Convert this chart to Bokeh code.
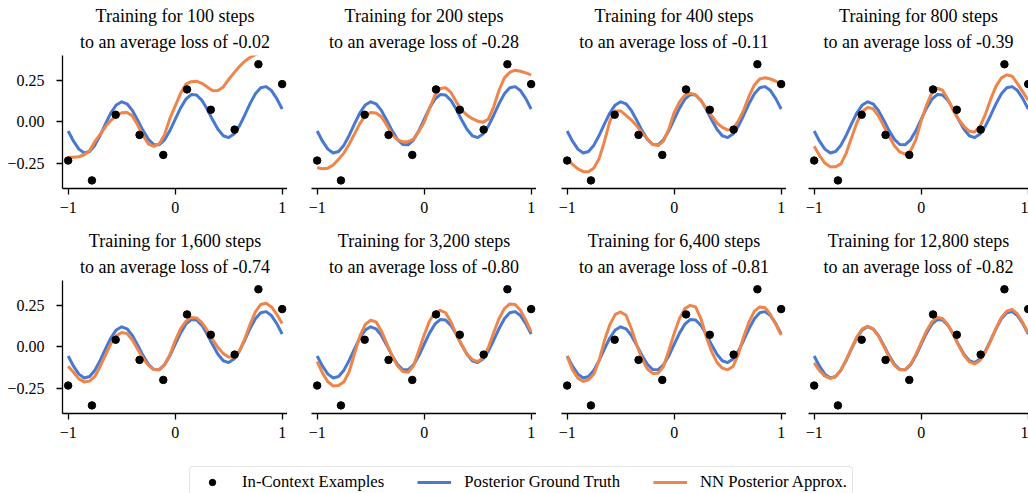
from bokeh.plotting import figure
from bokeh.layouts import row, column
from bokeh.models import Range1d, FixedTicker, Legend, LegendItem, CustomJSTickFormatter, Title
from bokeh.embed import file_html
from bokeh.resources import INLINE

# ---------------- data ----------------
steps_labels = ["100", "200", "400", "800", "1,600", "3,200", "6,400", "12,800"]
loss_labels = ["-0.02", "-0.28", "-0.11", "-0.39", "-0.74", "-0.80", "-0.81", "-0.82"]

example_x = [-1.0, -0.778, -0.556, -0.333, -0.111, 0.111, 0.333, 0.556, 0.778, 1.0]
example_y = [-0.235, -0.355, 0.042, -0.080, -0.201, 0.195, 0.072, -0.048, 0.347, 0.227]

grid_x = [-1.0, -0.95, -0.9, -0.85, -0.8, -0.75, -0.7, -0.65, -0.6, -0.55,
          -0.5, -0.45, -0.4, -0.35, -0.3, -0.25, -0.2, -0.15, -0.1, -0.05,
          0.0, 0.05, 0.1, 0.15, 0.2, 0.25, 0.3, 0.35, 0.4, 0.45,
          0.5, 0.55, 0.6, 0.65, 0.7, 0.75, 0.8, 0.85, 0.9, 0.95, 1.0]

truth_y = [-0.056, -0.118, -0.166, -0.189, -0.180, -0.142, -0.082, -0.012, 0.054, 0.101,
           0.120, 0.108, 0.068, 0.009, -0.054, -0.107, -0.138, -0.140, -0.110, -0.055,
           0.014, 0.082, 0.136, 0.164, 0.161, 0.129, 0.075, 0.011, -0.046, -0.085,
           -0.096, -0.075, -0.027, 0.039, 0.109, 0.169, 0.205, 0.212, 0.188, 0.139, 0.077]

approx_100 = [-0.215, -0.215, -0.212, -0.200, -0.175, -0.120, -0.075, -0.030, 0.008, 0.036,
              0.054, 0.055, 0.035, -0.020, -0.085, -0.135, -0.149, -0.135, -0.080, 0.018,
              0.094, 0.170, 0.227, 0.242, 0.245, 0.232, 0.210, 0.187, 0.188, 0.210,
              0.255, 0.295, 0.333, 0.365, 0.388, 0.405, 0.420, 0.430, 0.440, 0.440, 0.430]
approx_200 = [-0.279, -0.285, -0.281, -0.262, -0.228, -0.190, -0.135, -0.074, -0.010, 0.036,
              0.055, 0.052, 0.030, -0.020, -0.078, -0.108, -0.122, -0.120, -0.105, -0.060,
              -0.004, 0.080, 0.160, 0.200, 0.205, 0.177, 0.120, 0.070, 0.040, 0.018,
              0.003, -0.003, 0.015, 0.090, 0.190, 0.265, 0.298, 0.311, 0.305, 0.295, 0.283]
approx_400 = [-0.225, -0.258, -0.285, -0.302, -0.303, -0.280, -0.222, -0.115, 0.005, 0.065,
              0.065, 0.038, 0.010, -0.025, -0.068, -0.105, -0.138, -0.145, -0.118, -0.045,
              0.055, 0.120, 0.160, 0.172, 0.162, 0.128, 0.080, 0.036, -0.008, -0.035,
              -0.050, -0.048, 0.005, 0.070, 0.155, 0.222, 0.258, 0.265, 0.258, 0.245, 0.227]
approx_800 = [-0.149, -0.205, -0.250, -0.272, -0.273, -0.255, -0.190, -0.095, -0.005, 0.062,
              0.086, 0.079, 0.035, -0.025, -0.090, -0.145, -0.183, -0.196, -0.178, -0.110,
              0.005, 0.100, 0.175, 0.202, 0.190, 0.135, 0.068, 0.013, -0.028, -0.058,
              -0.062, -0.030, 0.045, 0.136, 0.215, 0.265, 0.283, 0.275, 0.230, 0.180, 0.130]
approx_1600 = [-0.118, -0.155, -0.195, -0.213, -0.208, -0.180, -0.118, -0.050, 0.020, 0.066,
               0.086, 0.079, 0.040, -0.015, -0.070, -0.113, -0.138, -0.140, -0.110, -0.050,
               0.035, 0.108, 0.153, 0.177, 0.174, 0.145, 0.098, 0.042, -0.005, -0.042,
               -0.062, -0.062, -0.028, 0.045, 0.135, 0.210, 0.255, 0.262, 0.240, 0.195, 0.140]
approx_3200 = [-0.090, -0.160, -0.212, -0.238, -0.235, -0.212, -0.150, -0.040, 0.065, 0.135,
               0.160, 0.150, 0.095, 0.020, -0.055, -0.115, -0.150, -0.155, -0.115, -0.025,
               0.070, 0.155, 0.205, 0.220, 0.205, 0.150, 0.075, 0.010, -0.045, -0.078,
               -0.090, -0.068, -0.005, 0.085, 0.170, 0.230, 0.258, 0.255, 0.220, 0.160, 0.090]
approx_6400 = [-0.060, -0.140, -0.190, -0.210, -0.200, -0.165, -0.080, 0.040, 0.135, 0.195,
               0.210, 0.190, 0.110, 0.010, -0.075, -0.135, -0.162, -0.160, -0.120, -0.025,
               0.080, 0.170, 0.230, 0.250, 0.240, 0.170, 0.060, -0.030, -0.095, -0.130,
               -0.140, -0.120, -0.045, 0.060, 0.150, 0.215, 0.240, 0.235, 0.195, 0.135, 0.070]
approx_12800 = [-0.098, -0.145, -0.178, -0.192, -0.182, -0.140, -0.078, -0.008, 0.060, 0.108,
                0.124, 0.108, 0.065, 0.003, -0.062, -0.113, -0.140, -0.140, -0.107, -0.048,
                0.024, 0.095, 0.150, 0.177, 0.170, 0.133, 0.075, 0.008, -0.052, -0.092,
                -0.104, -0.084, -0.033, 0.037, 0.112, 0.177, 0.215, 0.225, 0.198, 0.145, 0.082]

approx_series = [approx_100, approx_200, approx_400, approx_800,
                 approx_1600, approx_3200, approx_6400, approx_12800]

x_ticks = [-1, 0, 1]
y_ticks = [-0.25, 0.0, 0.25]

# ---------------- styling ----------------
BLUE = "#4878d0"
ORANGE = "#ee854a"
SERIF = "Liberation Serif"

left_borders = [62, 24, 25, 22]
frame_widths = [225, 225, 225, 220]
x_ends = [1.05, 1.05, 1.05, 1.003]

xfmt = CustomJSTickFormatter(code="return tick < 0 ? '\\u2212' + Math.abs(tick).toFixed(0) : tick.toFixed(0);")
yfmt = CustomJSTickFormatter(code="return tick < 0 ? '\\u2212' + Math.abs(tick).toFixed(2) : tick.toFixed(2);")


def title_line(text, standoff):
    return Title(text=text, align="center", text_font=SERIF, text_font_size="18px",
                 text_font_style="normal", text_color="black", standoff=standoff)


def make_panel(i):
    c = i % 4
    p = figure(frame_width=frame_widths[c], frame_height=133,
               min_border_left=left_borders[c], min_border_right=0,
               min_border_top=55, min_border_bottom=37,
               x_range=Range1d(-1.053, x_ends[c]), y_range=Range1d(-0.404, 0.40),
               output_backend="svg", toolbar_location=None, title=None)
    p.add_layout(title_line("to an average loss of %s" % loss_labels[i], 8), "above")
    p.add_layout(title_line("Training for %s steps" % steps_labels[i], 0), "above")
    p.outline_line_color = None
    p.xgrid.visible = False
    p.ygrid.visible = False
    for ax in (p.xaxis[0], p.yaxis[0]):
        ax.axis_line_color = "black"
        ax.axis_line_width = 1.3
        ax.major_tick_line_color = "black"
        ax.major_tick_line_width = 1.3
        ax.major_tick_out = 6
        ax.major_tick_in = 0
        ax.minor_tick_line_color = None
        ax.major_label_text_font = SERIF
        ax.major_label_text_font_size = "16px"
        ax.major_label_text_color = "black"
    p.xaxis.ticker = FixedTicker(ticks=x_ticks)
    p.xaxis.formatter = xfmt
    p.xaxis.major_label_standoff = 7
    p.yaxis.ticker = FixedTicker(ticks=y_ticks)
    p.yaxis.formatter = yfmt
    p.yaxis.major_label_standoff = 12
    if c != 0:
        p.yaxis.visible = False

    p.line(grid_x, truth_y, line_color=BLUE, line_width=3, line_join="round")
    p.line(grid_x, approx_series[i], line_color=ORANGE, line_width=3, line_join="round")
    p.scatter(example_x, example_y, size=7.5, color="black")
    return p


panels = [make_panel(i) for i in range(8)]

# ---------------- legend ----------------
leg = figure(width=1028, height=43, x_range=Range1d(0, 1), y_range=Range1d(0, 1),
             min_border=0, toolbar_location=None, output_backend="svg",
             x_axis_location=None, y_axis_location=None)
leg.outline_line_color = None
leg.grid.visible = False
r_dot = leg.scatter([5], [5], size=7.5, color="black")
r_blue = leg.line([5, 6], [5, 5], line_color=BLUE, line_width=3)
r_orange = leg.line([5, 6], [5, 5], line_color=ORANGE, line_width=3)
legend = Legend(items=[LegendItem(label="In-Context Examples", renderers=[r_dot]),
                       LegendItem(label="Posterior Ground Truth", renderers=[r_blue]),
                       LegendItem(label="NN Posterior Approx.", renderers=[r_orange])],
                orientation="horizontal", location=(189, -5), margin=0,
                glyph_width=34, glyph_height=16, label_height=16, label_standoff=13,
                spacing=33, padding=5,
                label_text_font=SERIF, label_text_font_size="16.7px", label_text_color="black",
                border_line_color="#cccccc", border_line_width=1,
                background_fill_color="white", background_fill_alpha=1.0)
if "border_radius" in Legend.properties():
    legend.border_radius = 4
leg.add_layout(legend, "center")

layout = column(row(panels[:4], spacing=0), row(panels[4:], spacing=0), leg, spacing=0)

open("out.html", "w").write(file_html(layout, INLINE))
